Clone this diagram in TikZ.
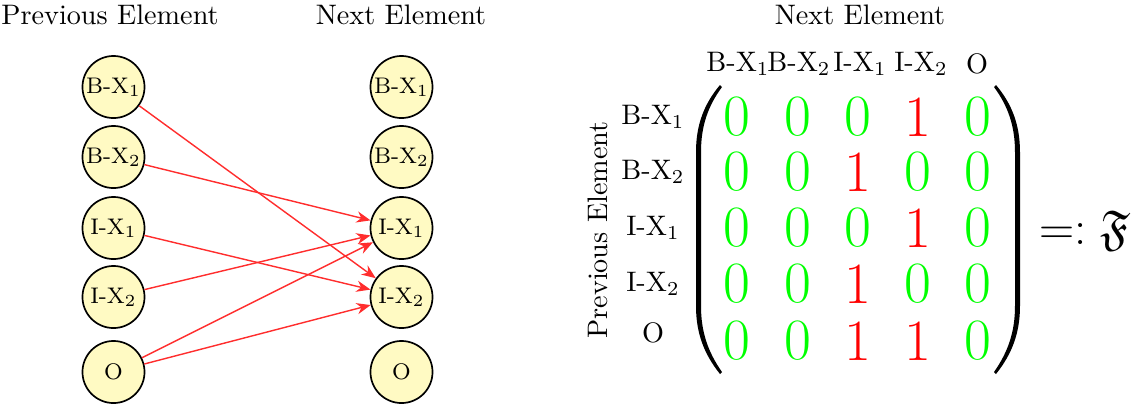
\documentclass[tikz,border=0pt]{standalone}
\usepackage{amssymb}
\usetikzlibrary{arrows.meta}
\definecolor{nodefill}{RGB}{255,250,195}
\definecolor{edgered}{RGB}{255,45,45}
\definecolor{zerogreen}{RGB}{0,255,0}
\definecolor{onered}{RGB}{255,0,0}
\tikzset{
  state/.style={circle,draw=black,line width=0.6pt,fill=nodefill,minimum size=22pt,inner sep=0pt,font=\footnotesize},
  trans/.style={draw=edgered,line width=0.5pt,-{Stealth[length=5pt,width=4pt]}},
  title/.style={inner sep=0pt},
  zero/.style={inner sep=0pt,text=zerogreen,font=\huge},
  one/.style={inner sep=0pt,text=onered,font=\huge},
  lab/.style={inner sep=0pt},
  paren/.style={fill=black,draw=none},
}
\begin{document}
\begin{tikzpicture}[x=0.3546pt,y=-0.3546pt]
\useasboundingbox (0,0) rectangle (1138,408);
% titles
\node[title] (tprev) at (110,15) {Previous Element};
\node[title] (tnext) at (401,15) {Next Element};
\node[title] (tmat) at (860,15) {Next Element};
% left column
\node[state] (lbx1) at (113.5,87) {B-X$_1$};
\node[state] (lbx2) at (113.5,157) {B-X$_2$};
\node[state] (lix1) at (113.5,228) {I-X$_1$};
\node[state] (lix2) at (113.5,297) {I-X$_2$};
\node[state] (lo)   at (113.5,372) {O};
% right column
\node[state] (rbx1) at (401.5,87) {B-X$_1$};
\node[state] (rbx2) at (401.5,157) {B-X$_2$};
\node[state] (rix1) at (401.5,228) {I-X$_1$};
\node[state] (rix2) at (401.5,297) {I-X$_2$};
\node[state] (ro)   at (401.5,372) {O};
% transitions
\draw[trans] (lbx1) -- (rix2);
\draw[trans] (lbx2) -- (rix1);
\draw[trans] (lix1) -- (rix2);
\draw[trans] (lix2) -- (rix1);
\draw[trans] (lo) -- (rix1);
\draw[trans] (lo) -- (rix2);
% matrix headers
\node[lab] (h1) at (738,64) {B-X$_1$};
\node[lab] (h2) at (799,64) {B-X$_2$};
\node[lab] (h3) at (860,64) {I-X$_1$};
\node[lab] (h4) at (921,64) {I-X$_2$};
\node[lab] (h5) at (977,64) {O};
% row labels
\node[lab] (r1) at (653,117) {B-X$_1$};
\node[lab] (r2) at (653,172) {B-X$_2$};
\node[lab] (r3) at (653,228) {I-X$_1$};
\node[lab] (r4) at (653,284) {I-X$_2$};
\node[lab] (r5) at (653,333) {O};
\node[lab,rotate=90] (vprev) at (598,230) {Previous Element};
% parentheses
\fill[paren] (720,85) .. controls (704,104) and (696,125) .. (696,152)
  -- (696,306) .. controls (696,333) and (704,354) .. (720,374)
  -- (722,372) .. controls (708,352) and (701,332) .. (701,306)
  -- (701,152) .. controls (701,126) and (708,106) .. (722,87) -- cycle;
\fill[paren] (996,85) .. controls (1012,104) and (1020,125) .. (1020,152)
  -- (1020,306) .. controls (1020,333) and (1012,354) .. (996,374)
  -- (994,372) .. controls (1008,352) and (1015,332) .. (1015,306)
  -- (1015,152) .. controls (1015,126) and (1008,106) .. (994,87) -- cycle;
% entries
\node[zero] (m11) at (737,117) {0};
\node[zero] (m12) at (798,117) {0};
\node[zero] (m13) at (858,117) {0};
\node[one]  (m14) at (918,117) {1};
\node[zero] (m15) at (978,117) {0};
\node[zero] (m21) at (737,172) {0};
\node[zero] (m22) at (798,172) {0};
\node[one]  (m23) at (858,172) {1};
\node[zero] (m24) at (918,172) {0};
\node[zero] (m25) at (978,172) {0};
\node[zero] (m31) at (737,228) {0};
\node[zero] (m32) at (798,228) {0};
\node[zero] (m33) at (858,228) {0};
\node[one]  (m34) at (918,228) {1};
\node[zero] (m35) at (978,228) {0};
\node[zero] (m41) at (737,284) {0};
\node[zero] (m42) at (798,284) {0};
\node[one]  (m43) at (858,284) {1};
\node[zero] (m44) at (918,284) {0};
\node[zero] (m45) at (978,284) {0};
\node[zero] (m51) at (737,341) {0};
\node[zero] (m52) at (798,341) {0};
\node[one]  (m53) at (858,341) {1};
\node[one]  (m54) at (918,341) {1};
\node[zero] (m55) at (978,341) {0};
% name
\node[inner sep=0pt,font=\LARGE] (fname) at (1085,231) {$=:\mathfrak{F}$};
\end{tikzpicture}
\end{document}
